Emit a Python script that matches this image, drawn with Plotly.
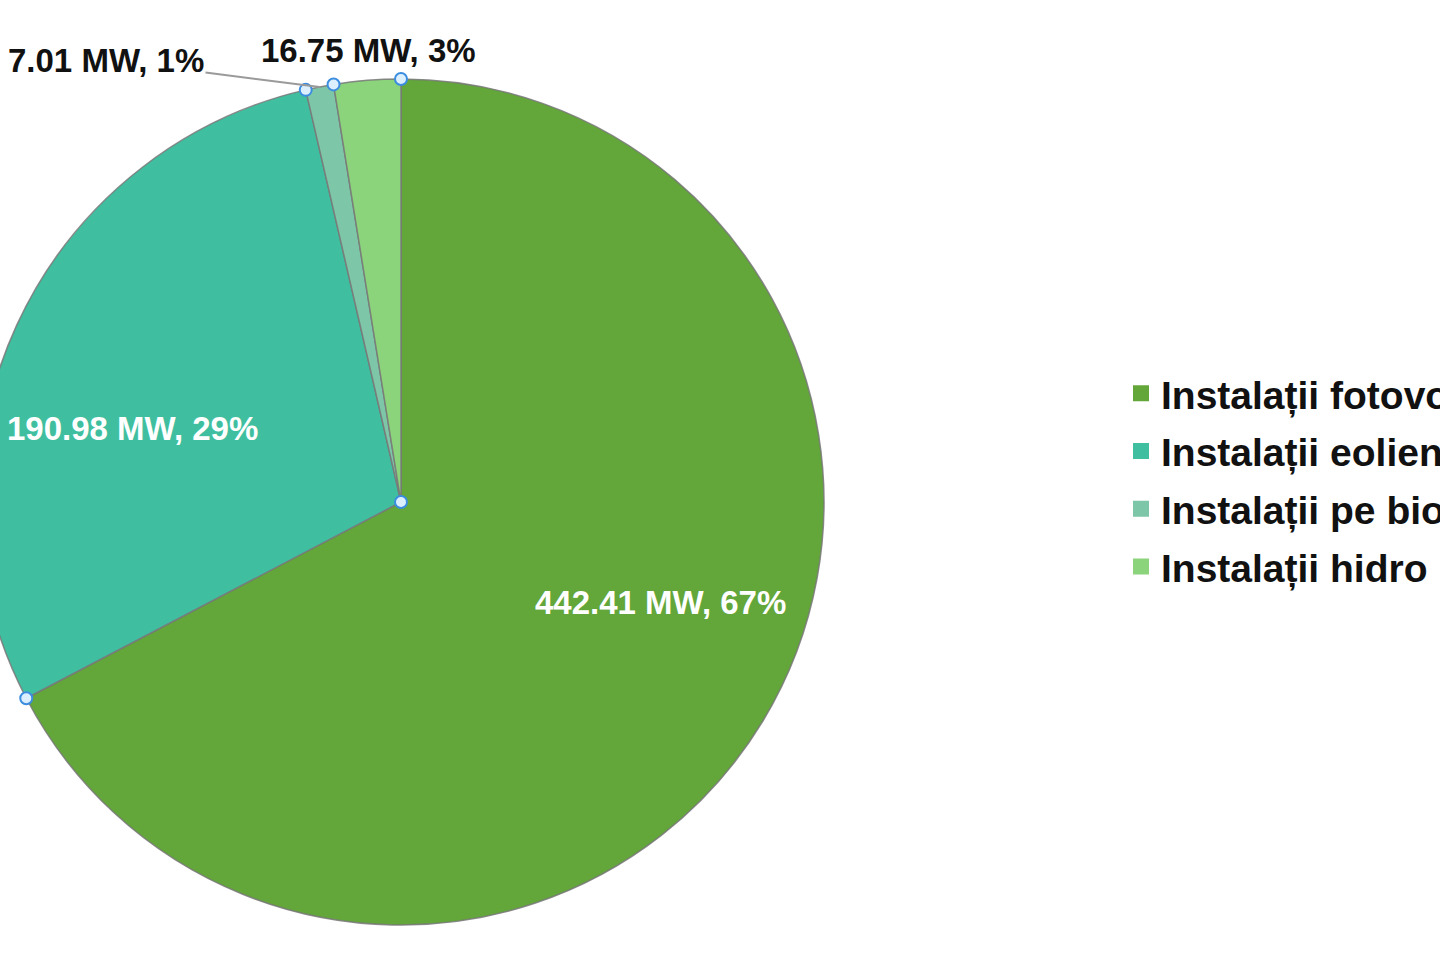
import math
import plotly.graph_objects as go

# ---- data ----
labels = ["Instalații fotovoltaice", "Instalații eoliene", "Instalații pe biomasă", "Instalații hidro"]
values = [442.41, 190.98, 7.01, 16.75]
colors = ["#63a63a", "#40bfa0", "#7ec6a8", "#8bd47c"]
label_colors = ["#ffffff", "#ffffff", "#111111", "#111111"]

# ---- geometry (figure pixels) ----
W, H = 1462, 960
SHIFT = 22
cx, cy, r = 423, 502, 423
dom_x = [(cx - r) / W, (cx + r) / W]
dom_y = [1 - (cy + r) / H, 1 - (cy - r) / H]
FONT = "Liberation Sans, Arial, sans-serif"

def px2paper(x, y):
    return x / W, 1 - y / H

fig = go.Figure()
fig.add_trace(go.Pie(
    labels=labels,
    values=values,
    sort=False,
    direction="clockwise",
    rotation=0,
    marker=dict(colors=colors, line=dict(color="rgba(120,120,120,0.85)", width=1.5)),
    textinfo="none",
    domain=dict(x=dom_x, y=dom_y),
    hoverinfo="label+value+percent",
    showlegend=False,
))

# legend entries (square swatches) for each category
for lab, col in zip(labels, colors):
    fig.add_trace(go.Scatter(
        x=[None], y=[None], mode="markers", name=lab, legendgroup=lab,
        marker=dict(symbol="square", size=20, color=col),
        hoverinfo="skip",
    ))

total = sum(values)
cum = [0.0]
for v in values:
    cum.append(cum[-1] + v)

# data labels (text derived from the values)
label_pos = [(660 + SHIFT, 602), (132 + SHIFT, 428), (106 + SHIFT, 60), (368 + SHIFT, 50)]
for i, v in enumerate(values):
    txt = f"{v:.2f} MW, {round(100 * v / total)}%"
    lxp, lyp = label_pos[i]
    lx, ly = px2paper(lxp, lyp)
    ann = dict(text=txt, xref="paper", yref="paper", x=lx, y=ly,
               xanchor="center", yanchor="middle", showarrow=False,
               font=dict(family=FONT, size=33, color=label_colors[i], weight="bold"))
    if i == 2:
        mid = 2 * math.pi * (cum[i] + v / 2) / total
        tpx, tpy = cx + math.sin(mid) * r, cy - math.cos(mid) * r
        tx, ty = px2paper(tpx, tpy)
        ann.update(x=tx, y=ty, ax=lxp - tpx, ay=lyp - tpy,
                   showarrow=True, arrowhead=0, arrowwidth=2, arrowcolor="#9a9a9a",
                   standoff=0, startstandoff=0)
    fig.add_annotation(**ann)

# selection handles at slice boundaries, computed from the data
handle_pts = [(0.0, 0.0)]
for c in cum[:-1]:
    th = 2 * math.pi * c / total
    handle_pts.append((math.sin(th), math.cos(th)))
for hx, hy in handle_pts:
    px, py = px2paper(cx + hx * r, cy - hy * r)
    fig.add_shape(type="circle", xref="paper", yref="paper",
                  xsizemode="pixel", ysizemode="pixel",
                  xanchor=px, yanchor=py, x0=-6, x1=6, y0=-6, y1=6,
                  fillcolor="#dcefff", line=dict(color="#3b8de0", width=2),
                  layer="above")

fig.update_layout(
    width=W, height=H,
    margin=dict(l=0, r=0, t=0, b=0, autoexpand=False),
    paper_bgcolor="white",
    plot_bgcolor="rgba(0,0,0,0)",
    xaxis=dict(visible=False),
    yaxis=dict(visible=False),
    showlegend=True,
    legend=dict(
        x=(1143 + SHIFT - 22) / W, xanchor="left",
        y=1 - 480 / H, yanchor="middle",
        font=dict(family=FONT, size=39, color="#111111", weight="bold"),
        bgcolor="rgba(0,0,0,0)",
        traceorder="grouped",
        tracegroupgap=4,
    ),
    font=dict(family=FONT),
)

post = (
    "document.body.style.margin='0';"
    "document.body.style.overflow='hidden';"
    "var gd=document.getElementById('{plot_id}');"
    "gd.style.marginLeft='-%dpx';" % SHIFT
)
fig.write_html("out.html", post_script=post, config={"displayModeBar": False})
